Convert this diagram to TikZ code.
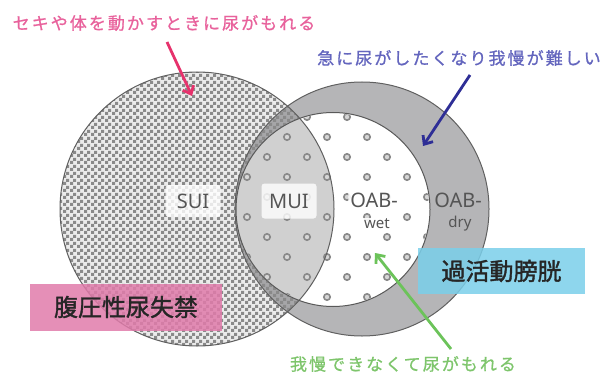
\documentclass[tikz,border=0pt]{standalone}
\usepackage{fontspec}
\setmainfont{Noto Sans}
\newfontfamily\jp[LetterSpace=12,FakeBold=1]{Noto Sans CJK JP}
\newfontfamily\jpbig[FakeBold=1.5]{Noto Sans CJK JP}
\usetikzlibrary{patterns,arrows.meta}
\pgfdeclarepatternformonly{checker}{\pgfpointorigin}{\pgfqpoint{7pt}{7pt}}{\pgfqpoint{7pt}{7pt}}{%
  \pgfpathrectangle{\pgfpointorigin}{\pgfqpoint{3.5pt}{3.5pt}}%
  \pgfpathrectangle{\pgfqpoint{3.5pt}{3.5pt}}{\pgfqpoint{3.5pt}{3.5pt}}%
  \pgfusepath{fill}}
\definecolor{ringgray}{HTML}{B5B5B7}
\definecolor{checkgray}{HTML}{8A8A8A}
\definecolor{muigray}{HTML}{D0D0D0}
\definecolor{edgegray}{HTML}{606060}
\definecolor{dotgray}{HTML}{8A8A8A}
\definecolor{dotfill}{HTML}{D6D6D6}
\definecolor{labelgray}{HTML}{555555}
\definecolor{pinkbox}{HTML}{E07BAA}
\definecolor{bluebox}{HTML}{7ACFEA}
\definecolor{pinktxt}{HTML}{E8629C}
\definecolor{pinkarrow}{HTML}{E6326C}
\definecolor{bluetxt}{HTML}{6466BE}
\definecolor{bluearrow}{HTML}{2E2E96}
\definecolor{greentxt}{HTML}{7EC56C}
\definecolor{greenarrow}{HTML}{6CC35A}
\tikzset{
  outline/.style={draw=edgegray, line width=1pt},
  tag/.style={fill=white, fill opacity=0.8, text opacity=1, rounded corners=3pt,
    text=labelgray, inner sep=0pt, font=\fontsize{20}{24}\selectfont},
  subtag/.style={text=labelgray, inner sep=1pt, font=\fontsize{15}{17}\selectfont},
  caption/.style={inner sep=0pt, font=\jp\fontsize{17}{20}\selectfont},
  bigbox/.style={fill opacity=0.85, text opacity=1, text=black!85, inner sep=0pt,
    font=\jpbig\fontsize{24}{28}\selectfont},
  callout/.style={line width=2.8pt, -{Straight Barb[length=7pt,width=12pt]}},
  dotmark/.style={draw=dotgray, fill=dotfill, line width=1.6pt}
}
\begin{document}
\begin{tikzpicture}[x=1pt,y=-1pt]
\useasboundingbox (0,0) rectangle (604,374);
\coordinate (leftC) at (197,209);
\coordinate (outC) at (362,209);
\coordinate (inC) at (333,209.5);
% ring (OAB-dry)
\fill[ringgray] (outC) circle[radius=127];
% SUI checker
\fill[black, fill opacity=0.08] (leftC) circle[radius=137];
\fill[pattern=checker, pattern color=checkgray] (leftC) circle[radius=137];
% inner OAB-wet
\fill[white] (inC) circle[radius=97];
% MUI lens
\begin{scope}
  \clip (leftC) circle[radius=137];
  \fill[muigray] (inC) circle[radius=97];
\end{scope}
% dots
\begin{scope}
  \clip (inC) circle[radius=96];
  \foreach \i in {-2,...,8}{
    \foreach \j in {-3,...,8}{
      \pgfmathtruncatemacro\parity{mod(\i+\j+20,2)}
      \ifnum\parity=0
        \draw[dotmark] (267+20*\i,157+20*\j) circle[radius=3.2];
      \fi
    }
  }
\end{scope}
% outlines
\draw[outline] (outC) circle[radius=127];
\draw[outline] (leftC) circle[radius=137];
\draw[outline, draw=black!65] (inC) circle[radius=97];
% inner labels
\node[tag, minimum width=55pt, minimum height=32pt] (sui) at (193,201) {SUI};
\node[tag, minimum width=55pt, minimum height=35pt] (mui) at (289,201) {MUI};
\node[tag, fill opacity=0.9, inner sep=2pt] (oabw) at (374,200) {OAB-};
\node[subtag, fill=white, fill opacity=0.9, text opacity=1] (wet) at (377,224) {wet};
\node[tag, fill=none, inner sep=2pt] (oabd) at (458,200) {OAB-};
\node[subtag] (dry) at (460,224) {dry};
% big boxes
\node[bigbox, fill=pinkbox, minimum width=192pt, minimum height=47pt] (stress) at (126,307) {腹圧性尿失禁};
\node[bigbox, fill=bluebox, minimum width=167pt, minimum height=46pt] (oab) at (501.5,271) {過活動膀胱};
% captions
\node[caption, text=pinktxt] (capS) at (164,23) {セキや体を動かすときに尿がもれる};
\node[caption, text=bluetxt] (capU) at (459,58) {急に尿がしたくなり我慢が難しい};
\node[caption, text=greentxt] (capW) at (403,364) {我慢できなくて尿がもれる};
% arrows
\coordinate (pa1) at (167,42);
\coordinate (pa2) at (192,96);
\coordinate (ba1) at (470,75);
\coordinate (ba2) at (423,146);
\coordinate (ga1) at (451,349);
\coordinate (ga2) at (375,253);
\draw[callout, pinkarrow] (pa1) -- (pa2);
\draw[callout, bluearrow] (ba1) -- (ba2);
\draw[callout, greenarrow] (ga1) -- (ga2);
\end{tikzpicture}
\end{document}
